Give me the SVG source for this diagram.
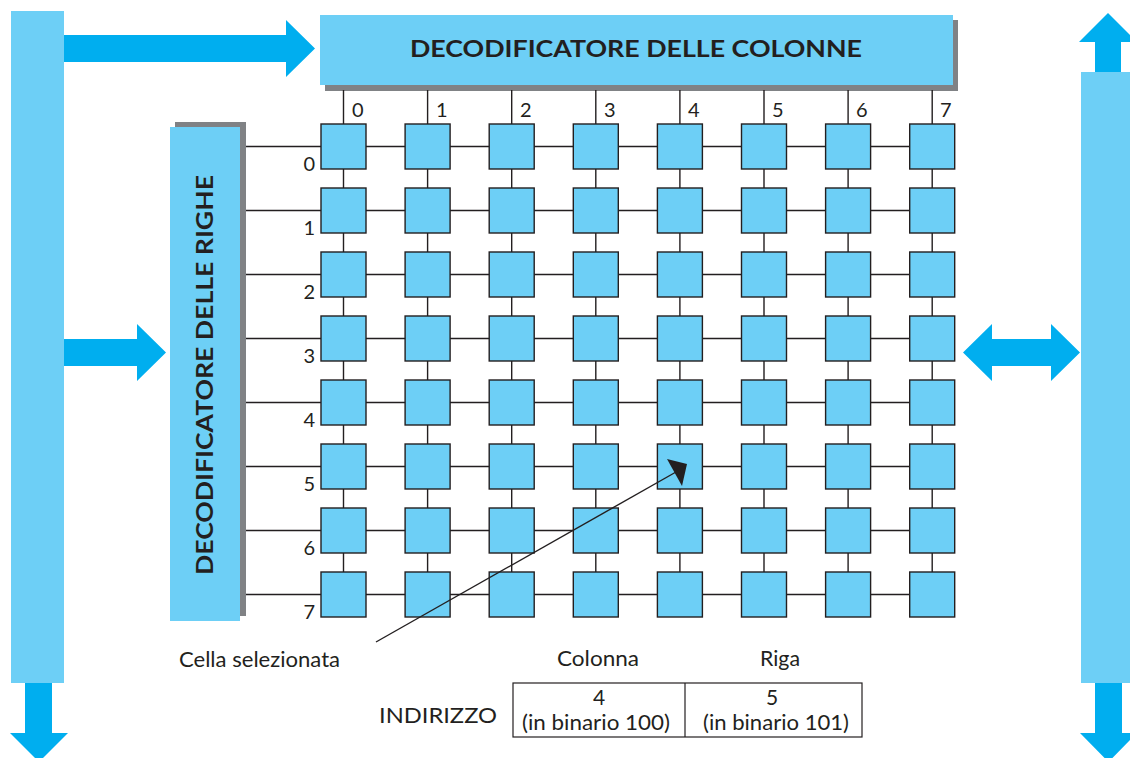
<svg xmlns="http://www.w3.org/2000/svg" width="1130" height="758" viewBox="0 0 1130 758">
<style>
.bar{fill:#6dcff6}
.arr{fill:#00aeef}
.sh{fill:#808285}
.cell{fill:#6dcff6;stroke:#231f20;stroke-width:1.4}
.ln{stroke:#231f20;stroke-width:1.4;fill:none}
.t{font-family:Lato,"Open Sans",sans-serif;fill:#231f20}
.lbl{font-size:20px}
.title{font-size:23px;font-weight:bold}
.txt{font-size:21px}
</style>
<rect width="1130" height="758" fill="#fff"/>
<g id="left-bus">
<rect class="bar" x="11" y="11" width="53" height="672"/>
<polygon class="arr" points="25,683 52,683 52,733 68,733 39,762 10,733 25,733"/>
</g>
<g id="right-bus">
<rect class="bar" x="1081" y="72" width="50" height="611"/>
<polygon class="arr" points="1108,13 1137,42 1121,42 1121,72 1095,72 1095,42 1079,42"/>
<polygon class="arr" points="1095,683 1122,683 1122,733 1137,733 1108.5,762 1080,733 1095,733"/>
</g>
<g id="arrows">
<polygon class="arr" points="64,35 286,35 286,20 315,48.5 286,77 286,62 64,62"/>
<polygon class="arr" points="64,339 137,339 137,324 166,352.5 137,381 137,366 64,366"/>
<polygon class="arr" points="963,352.5 992,324 992,339 1051,339 1051,324 1080,352.5 1051,381 1051,366 992,366 992,381"/>
</g>
<g id="col-decoder">
<rect class="sh" x="325" y="20" width="633" height="71"/>
<rect class="bar" x="320" y="15" width="633" height="70"/>
<text class="t title" x="636" y="57" text-anchor="middle" textLength="452" lengthAdjust="spacingAndGlyphs">DECODIFICATORE DELLE COLONNE</text>
</g>
<g id="row-decoder">
<rect class="sh" x="175" y="122" width="71" height="494"/>
<rect class="bar" x="170" y="127" width="70" height="494"/>
<text class="t title" transform="translate(213,375) rotate(-90)" x="0" y="0" text-anchor="middle" textLength="400" lengthAdjust="spacingAndGlyphs">DECODIFICATORE DELLE RIGHE</text>
</g>
<g id="connectors">
<path class="ln" d="M343.5,90V594.5M427.6,90V594.5M511.7,90V594.5M595.8,90V594.5M679.9,90V594.5M764,90V594.5M848.1,90V594.5M932.2,90V594.5"/>
<path class="ln" d="M246,146.5H932M246,210.5H932M246,274.5H932M246,338.5H932M246,402.5H932M246,466.5H932M246,530.5H932M246,594.5H932"/>
</g>
<g id="cells">
<g id="row0"><rect class="cell" x="321" y="124" width="45" height="45"/><rect class="cell" x="405.1" y="124" width="45" height="45"/><rect class="cell" x="489.2" y="124" width="45" height="45"/><rect class="cell" x="573.3" y="124" width="45" height="45"/><rect class="cell" x="657.4" y="124" width="45" height="45"/><rect class="cell" x="741.5" y="124" width="45" height="45"/><rect class="cell" x="825.6" y="124" width="45" height="45"/><rect class="cell" x="909.7" y="124" width="45" height="45"/></g>
<g id="row1"><rect class="cell" x="321" y="188" width="45" height="45"/><rect class="cell" x="405.1" y="188" width="45" height="45"/><rect class="cell" x="489.2" y="188" width="45" height="45"/><rect class="cell" x="573.3" y="188" width="45" height="45"/><rect class="cell" x="657.4" y="188" width="45" height="45"/><rect class="cell" x="741.5" y="188" width="45" height="45"/><rect class="cell" x="825.6" y="188" width="45" height="45"/><rect class="cell" x="909.7" y="188" width="45" height="45"/></g>
<g id="row2"><rect class="cell" x="321" y="252" width="45" height="45"/><rect class="cell" x="405.1" y="252" width="45" height="45"/><rect class="cell" x="489.2" y="252" width="45" height="45"/><rect class="cell" x="573.3" y="252" width="45" height="45"/><rect class="cell" x="657.4" y="252" width="45" height="45"/><rect class="cell" x="741.5" y="252" width="45" height="45"/><rect class="cell" x="825.6" y="252" width="45" height="45"/><rect class="cell" x="909.7" y="252" width="45" height="45"/></g>
<g id="row3"><rect class="cell" x="321" y="316" width="45" height="45"/><rect class="cell" x="405.1" y="316" width="45" height="45"/><rect class="cell" x="489.2" y="316" width="45" height="45"/><rect class="cell" x="573.3" y="316" width="45" height="45"/><rect class="cell" x="657.4" y="316" width="45" height="45"/><rect class="cell" x="741.5" y="316" width="45" height="45"/><rect class="cell" x="825.6" y="316" width="45" height="45"/><rect class="cell" x="909.7" y="316" width="45" height="45"/></g>
<g id="row4"><rect class="cell" x="321" y="380" width="45" height="45"/><rect class="cell" x="405.1" y="380" width="45" height="45"/><rect class="cell" x="489.2" y="380" width="45" height="45"/><rect class="cell" x="573.3" y="380" width="45" height="45"/><rect class="cell" x="657.4" y="380" width="45" height="45"/><rect class="cell" x="741.5" y="380" width="45" height="45"/><rect class="cell" x="825.6" y="380" width="45" height="45"/><rect class="cell" x="909.7" y="380" width="45" height="45"/></g>
<g id="row5"><rect class="cell" x="321" y="444" width="45" height="45"/><rect class="cell" x="405.1" y="444" width="45" height="45"/><rect class="cell" x="489.2" y="444" width="45" height="45"/><rect class="cell" x="573.3" y="444" width="45" height="45"/><rect class="cell" x="657.4" y="444" width="45" height="45"/><rect class="cell" x="741.5" y="444" width="45" height="45"/><rect class="cell" x="825.6" y="444" width="45" height="45"/><rect class="cell" x="909.7" y="444" width="45" height="45"/></g>
<g id="row6"><rect class="cell" x="321" y="508" width="45" height="45"/><rect class="cell" x="405.1" y="508" width="45" height="45"/><rect class="cell" x="489.2" y="508" width="45" height="45"/><rect class="cell" x="573.3" y="508" width="45" height="45"/><rect class="cell" x="657.4" y="508" width="45" height="45"/><rect class="cell" x="741.5" y="508" width="45" height="45"/><rect class="cell" x="825.6" y="508" width="45" height="45"/><rect class="cell" x="909.7" y="508" width="45" height="45"/></g>
<g id="row7"><rect class="cell" x="321" y="572" width="45" height="45"/><rect class="cell" x="405.1" y="572" width="45" height="45"/><rect class="cell" x="489.2" y="572" width="45" height="45"/><rect class="cell" x="573.3" y="572" width="45" height="45"/><rect class="cell" x="657.4" y="572" width="45" height="45"/><rect class="cell" x="741.5" y="572" width="45" height="45"/><rect class="cell" x="825.6" y="572" width="45" height="45"/><rect class="cell" x="909.7" y="572" width="45" height="45"/></g>
</g>
<g id="col-labels" class="t lbl">
<text x="352" y="117">0</text><text x="436" y="117">1</text><text x="520" y="117">2</text><text x="604" y="117">3</text><text x="688" y="117">4</text><text x="772" y="117">5</text><text x="856" y="117">6</text><text x="940" y="117">7</text>
</g>
<g id="row-labels" class="t lbl" text-anchor="end">
<text x="315" y="171">0</text><text x="315" y="235">1</text><text x="315" y="299">2</text><text x="315" y="363">3</text><text x="315" y="427">4</text><text x="315" y="491">5</text><text x="315" y="555">6</text><text x="315" y="619">7</text>
</g>
<g id="pointer">
<line class="ln" x1="376" y1="642" x2="676" y2="472"/>
<polygon fill="#231f20" points="667,459 687,464 682,486"/>
</g>
<g id="cella-label"><text class="t txt" x="179" y="667" textLength="161" lengthAdjust="spacingAndGlyphs">Cella selezionata</text></g>
<g id="address">
<text class="t txt" x="598" y="666" text-anchor="middle" textLength="82" lengthAdjust="spacingAndGlyphs">Colonna</text>
<text class="t txt" x="780" y="666" text-anchor="middle" textLength="40" lengthAdjust="spacingAndGlyphs">Riga</text>
<text class="t txt" x="379" y="723" textLength="118" lengthAdjust="spacingAndGlyphs">INDIRIZZO</text>
<rect x="513" y="683" width="349" height="54" fill="none" stroke="#231f20" stroke-width="1.2"/>
<line x1="685" y1="683" x2="685" y2="737" stroke="#231f20" stroke-width="1.2"/>
<text class="t txt" x="599" y="705" text-anchor="middle">4</text>
<text class="t txt" x="596" y="730" text-anchor="middle" textLength="148" lengthAdjust="spacingAndGlyphs">(in binario 100)</text>
<text class="t txt" x="772" y="705" text-anchor="middle">5</text>
<text class="t txt" x="776" y="730" text-anchor="middle" textLength="146" lengthAdjust="spacingAndGlyphs">(in binario 101)</text>
</g>
</svg>
